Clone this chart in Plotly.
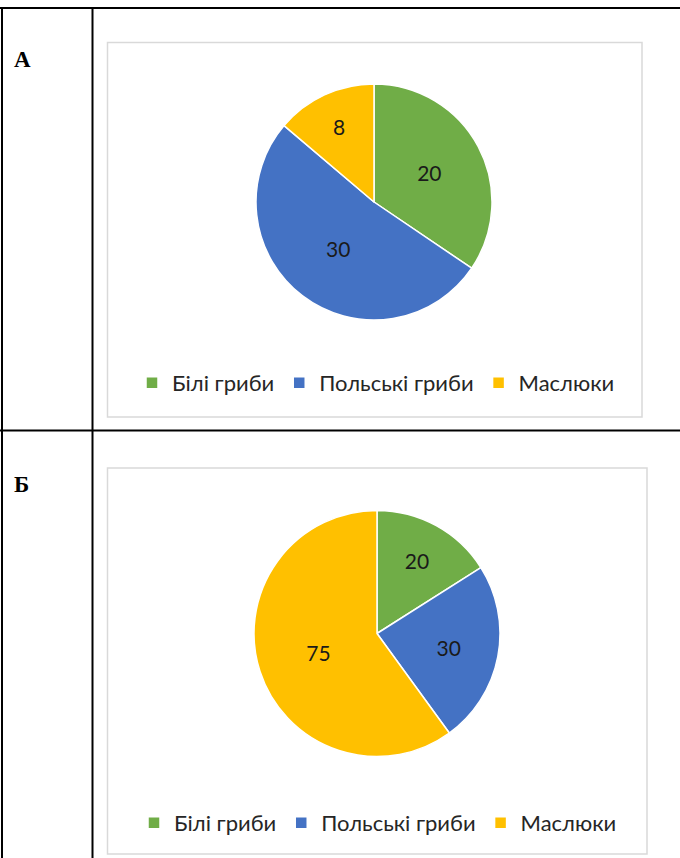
import plotly.graph_objects as go

W, H = 680, 858

categories = ["Білі гриби", "Польські гриби", "Маслюки"]
values_a = [20, 30, 8]
values_b = [20, 30, 75]
colors = ["#70AD47", "#4472C4", "#FFC000"]
row_labels = ["А", "Б"]

def px_x(x):
    return x / W

def px_y(y):
    return 1 - y / H

FONT = "Lato, 'Open Sans', sans-serif"

fig = go.Figure()

fig.add_trace(go.Pie(
    labels=categories, values=values_a, sort=False, direction="clockwise",
    rotation=0, marker=dict(colors=colors, line=dict(color="white", width=1.5)),
    textinfo="value", textposition="inside", insidetextorientation="horizontal",
    textfont=dict(color="#1a1a1a", size=21, family=FONT),
    domain=dict(x=[px_x(256), px_x(492)], y=[px_y(320), px_y(84)]),
    legend="legend", hoverinfo="label+value",
))
# second pie: zero-width space keeps its legend entries separate from the first pie's
fig.add_trace(go.Pie(
    labels=[c + "\u200b" for c in categories], values=values_b, sort=False,
    direction="clockwise",
    rotation=0, marker=dict(colors=colors, line=dict(color="white", width=1.5)),
    textinfo="value", textposition="inside", insidetextorientation="horizontal",
    textfont=dict(color="#1a1a1a", size=21, family=FONT),
    domain=dict(x=[px_x(254), px_x(500)], y=[px_y(757), px_y(510)]),
    legend="legend2", hoverinfo="label+value",
))

shapes = []
# chart boxes
shapes.append(dict(type="rect", xref="paper", yref="paper",
                   x0=px_x(107.5), x1=px_x(642), y0=px_y(417), y1=px_y(42.5),
                   line=dict(color="#d9d9d9", width=1.5), fillcolor="white", layer="below"))
shapes.append(dict(type="rect", xref="paper", yref="paper",
                   x0=px_x(107.5), x1=px_x(647), y0=px_y(854), y1=px_y(468),
                   line=dict(color="#d9d9d9", width=1.5), fillcolor="white", layer="below"))
# table lines
for (x0, y0, x1, y1) in [(0, 8, W, 8), (0, 430.5, W, 430.5),
                         (2, 8, 2, H), (92.5, 8, 92.5, H)]:
    shapes.append(dict(type="line", xref="paper", yref="paper",
                       x0=px_x(x0), x1=px_x(x1), y0=px_y(y0), y1=px_y(y1),
                       line=dict(color="black", width=2)))

annotations = []
for lab, yy in zip(row_labels, [59, 484]):
    annotations.append(dict(text="<b>%s</b>" % lab, xref="paper", yref="paper",
                            x=px_x(12), y=px_y(yy), xanchor="left", yanchor="middle",
                            showarrow=False,
                            font=dict(family="Liberation Serif, serif", size=23, color="black")))

legend_common = dict(orientation="h", xanchor="center", yanchor="middle",
                     font=dict(family=FONT, size=22, color="#262626"),
                     bgcolor="rgba(0,0,0,0)", itemwidth=30, traceorder="normal")

fig.update_layout(
    width=W, height=H, margin=dict(l=0, r=0, t=0, b=0),
    paper_bgcolor="white", plot_bgcolor="white",
    shapes=shapes, annotations=annotations,
    legend=dict(x=px_x(376), y=px_y(383), **legend_common),
    legend2=dict(x=px_x(378), y=px_y(823), **legend_common),
    showlegend=True,
)

fig.write_html("out.html", config={"displayModeBar": False},
               post_script="document.body.style.margin='0';document.body.style.padding='0';")
